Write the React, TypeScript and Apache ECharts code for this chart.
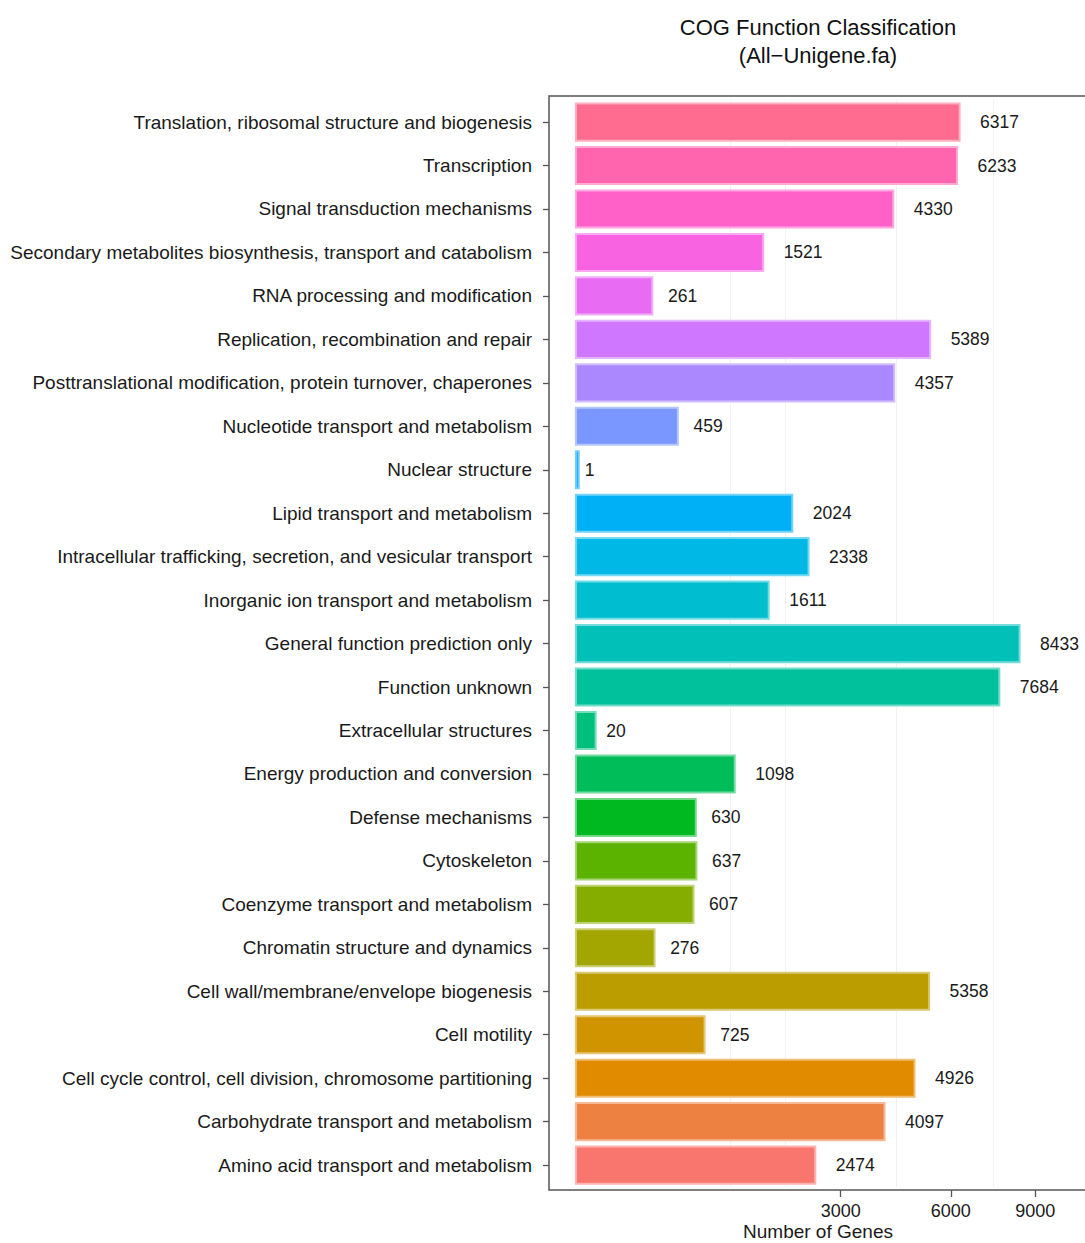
import React, { useEffect, useRef } from "react";
import * as echarts from "echarts";

// COG categories, listed bottom-to-top as they appear on the axis
const categories = [
  "Amino acid transport and metabolism",
  "Carbohydrate transport and metabolism",
  "Cell cycle control, cell division, chromosome partitioning",
  "Cell motility",
  "Cell wall/membrane/envelope biogenesis",
  "Chromatin structure and dynamics",
  "Coenzyme transport and metabolism",
  "Cytoskeleton",
  "Defense mechanisms",
  "Energy production and conversion",
  "Extracellular structures",
  "Function unknown",
  "General function prediction only",
  "Inorganic ion transport and metabolism",
  "Intracellular trafficking, secretion, and vesicular transport",
  "Lipid transport and metabolism",
  "Nuclear structure",
  "Nucleotide transport and metabolism",
  "Posttranslational modification, protein turnover, chaperones",
  "Replication, recombination and repair",
  "RNA processing and modification",
  "Secondary metabolites biosynthesis, transport and catabolism",
  "Signal transduction mechanisms",
  "Transcription",
  "Translation, ribosomal structure and biogenesis",
];

const geneCounts = [
  2474, 4097, 4926, 725, 5358, 276, 607, 637, 630, 1098, 20, 7684, 8433, 1611,
  2338, 2024, 1, 459, 4357, 5389, 261, 1521, 4330, 6233, 6317,
];

// x axis uses a square-root scale
const xTickValues = [3000, 6000, 9000];
const xGridValues = [1020, 1875, 4375, 7420];

const TITLE = "COG Function Classification\n(All\u2212Unigene.fa)";
const X_NAME = "Number of Genes";

const FONT = "'Liberation Sans', Arial, Helvetica, sans-serif";

// HCL (polar Luv) -> sRGB channels, used for the evenly spaced hue palette
function hclToRgb(h: number, c: number, l: number): number[] {
  const hr = (h * Math.PI) / 180;
  const U = c * Math.cos(hr);
  const V = c * Math.sin(hr);
  const Xn = 95.047, Yn = 100.0, Zn = 108.883;
  const den = Xn + 15 * Yn + 3 * Zn;
  const un = (4 * Xn) / den;
  const vn = (9 * Yn) / den;
  const Y = l > 8 ? Yn * Math.pow((l + 16) / 116, 3) : (Yn * l) / 903.3;
  const u = U / (13 * l) + un;
  const v = V / (13 * l) + vn;
  const X = (9 * Y * u) / (4 * v);
  const Z = -X / 3 - 5 * Y + (3 * Y) / v;
  const x = X / 100, y = Y / 100, z = Z / 100;
  const lin = [
    3.240479 * x - 1.53715 * y - 0.498535 * z,
    -0.969256 * x + 1.875992 * y + 0.041556 * z,
    0.055648 * x - 0.204043 * y + 1.057311 * z,
  ];
  return lin.map((t) => {
    const g = t <= 0.0031308 ? 12.92 * t : 1.055 * Math.pow(t, 1 / 2.4) - 0.055;
    return Math.round(Math.min(1, Math.max(0, g)) * 255);
  });
}

const toHex = (rgb: number[]) =>
  "#" + rgb.map((k) => Math.round(k).toString(16).padStart(2, "0")).join("");

// mix a colour toward white
const tint = (rgb: number[], t: number) => rgb.map((k) => k + (255 - k) * t);

function huePalette(n: number): number[][] {
  const out: number[][] = [];
  for (let i = 0; i < n; i++) out.push(hclToRgb(15 + (360 * i) / n, 100, 65));
  return out;
}

export default function App() {
  const ref = useRef<HTMLDivElement>(null);

  useEffect(() => {
    if (!ref.current) return;
    const chart = echarts.init(ref.current, undefined, { renderer: "svg" });
    const palette = huePalette(categories.length);
    const labelSize = 17.5;

    const panel = { left: 549, top: 96, width: 538, height: 1094 };
    const band = 43.46;
    const gridTop = panel.top + 0.6 * band - band / 2;
    const gridHeight = band * categories.length;

    chart.setOption({
      animation: false,
      backgroundColor: "#ffffff",
      grid: {
        left: panel.left,
        top: gridTop,
        width: panel.width,
        height: gridHeight,
        containLabel: false,
        outerBoundsMode: "none",
      },
      xAxis: {
        type: "value",
        min: -5.34,
        max: 105.52,
        offset: panel.top + panel.height - (gridTop + gridHeight),
        axisLine: { show: false, onZero: false },
        splitLine: { show: false },
        axisTick: {
          show: true,
          length: 7,
          customValues: xTickValues.map((v) => Math.sqrt(v)),
          lineStyle: { color: "#555555", width: 1.3 },
        },
        axisLabel: {
          show: true,
          customValues: xTickValues.map((v) => Math.sqrt(v)),
          formatter: (s: number) => String(Math.round(s * s)),
          margin: 12,
          fontSize: 18,
          fontFamily: FONT,
          color: "#1a1a1a",
        },
        name: X_NAME,
        nameLocation: "middle",
        nameGap: 32,
        nameMoveOverlap: false,
        nameTextStyle: { fontSize: 19, fontFamily: FONT, color: "#1a1a1a" },
      },
      yAxis: {
        type: "category",
        data: categories,
        axisLine: { show: false, onZero: false },
        axisTick: {
          show: true,
          alignWithLabel: true,
          length: 6,
          lineStyle: { color: "#555555", width: 1.3 },
        },
        axisLabel: {
          margin: 17,
          fontSize: 19,
          fontFamily: FONT,
          color: "#1a1a1a",
        },
        splitLine: { show: false },
      },
      series: [
        {
          type: "bar",
          barCategoryGap: "10%",
          z: 2,
          data: geneCounts.map((v, i) => ({
            value: Math.sqrt(v),
            itemStyle: {
              color: toHex(palette[i]),
              borderColor: toHex(tint(palette[i], 0.45)),
              borderWidth: 2,
            },
            label: { distance: String(v).length * 0.278 * labelSize },
          })),
          label: {
            show: true,
            position: "right",
            formatter: (p: any) => String(geneCounts[p.dataIndex]),
            fontSize: labelSize,
            fontFamily: FONT,
            color: "#1a1a1a",
          },
          emphasis: { disabled: true },
          markLine: {
            z: 1,
            silent: true,
            symbol: "none",
            label: { show: false },
            lineStyle: { color: "#f1f1f1", width: 1, type: "solid" },
            emphasis: { disabled: true },
            data: xGridValues.map((v) => ({ xAxis: Math.sqrt(v) })),
          },
        },
      ],
      graphic: [
        {
          type: "rect",
          silent: true,
          z: 10,
          shape: {
            x: panel.left,
            y: panel.top,
            width: panel.width,
            height: panel.height,
          },
          style: { fill: "none", stroke: "#555555", lineWidth: 1.5 },
        },
        {
          type: "text",
          silent: true,
          x: 818,
          y: 13,
          style: {
            text: TITLE,
            textAlign: "center",
            textVerticalAlign: "top",
            fontSize: 22,
            lineHeight: 28,
            fontFamily: FONT,
            fill: "#111111",
          },
        },
      ],
    });

    return () => chart.dispose();
  }, []);

  return (
    <div
      ref={ref}
      style={{ position: "absolute", left: 0, top: 0, width: 1085, height: 1243 }}
    />
  );
}
